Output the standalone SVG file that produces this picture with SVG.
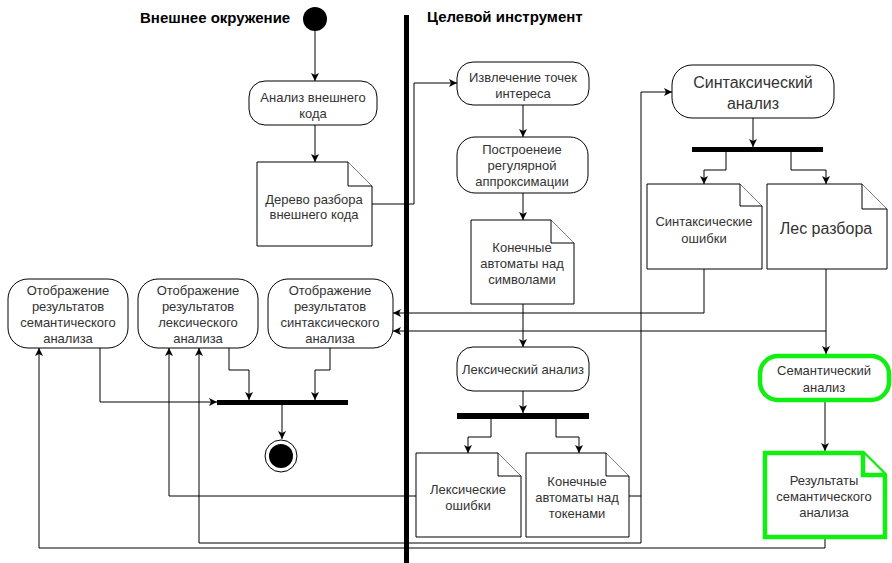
<svg xmlns="http://www.w3.org/2000/svg" width="892" height="563" viewBox="0 0 892 563">
<style>
  .n { fill: #fff; stroke: #000; stroke-width: 1; }
  .g { fill: #fff; stroke: #11ee11; stroke-width: 4.5; }
  .t { font-family: "Liberation Sans", Arial, sans-serif; font-size: 13px; fill: #333; text-anchor: middle; dominant-baseline: central; }
  .tl { font-size: 16px; }
  .h { font-family: "Liberation Sans", Arial, sans-serif; font-size: 15px; font-weight: bold; fill: #000; }
  .c { fill: none; stroke: #000; stroke-width: 1; marker-end: url(#arr); }
  .bar { fill: #000; }
</style>
<defs>
  <marker id="arr" markerWidth="10" markerHeight="10" refX="8" refY="4" orient="auto" markerUnits="userSpaceOnUse">
    <path d="M0,0 L8,4 L0,8 L2,4 Z" fill="#000"/>
  </marker>
</defs>
<rect width="892" height="563" fill="#fff"/>

<g id="titles">
  <text class="h" x="140" y="23">Внешнее окружение</text>
  <text class="h" x="427" y="22">Целевой инструмент</text>
  <rect x="404" y="15" width="5" height="548" fill="#000"/>
</g>

<g id="connectors">
  <path class="c" d="M315,31 V81"/>
  <path class="c" d="M315,125 V162"/>
  <path class="c" d="M372,204 H414 V83 H457"/>
  <path class="c" d="M523,105 V137"/>
  <path class="c" d="M523,193 V220"/>
  <path class="c" d="M523,304 V347"/>
  <path class="c" d="M523,391 V413"/>
  <path class="c" d="M491,419 V437 H468 V453"/>
  <path class="c" d="M556,419 V437 H579 V453"/>
  <path class="c" d="M416,496 H169 V348"/>
  <path class="c" d="M629,496 H641 V92 H672"/>
  <path class="c" d="M641,496 V543 H199 V348"/>
  <path class="c" d="M753,118 V147"/>
  <path class="c" d="M726,152 V170 H704 V184"/>
  <path class="c" d="M791,152 V170 H826 V184"/>
  <path class="c" d="M704,269 V313 H393"/>
  <path class="c" d="M826,269 V354"/>
  <path class="c" d="M826,331 H393"/>
  <path class="c" d="M825,401 V451"/>
  <path class="c" d="M825,539 V548 H39 V348"/>
  <path class="c" d="M100,348 V402 H217"/>
  <path class="c" d="M229,348 V370 H249 V400"/>
  <path class="c" d="M330,348 V370 H315 V400"/>
  <path class="c" d="M282,405 V439"/>
</g>

<g id="start"><circle cx="315" cy="19" r="12" fill="#000"/></g>

<g id="analiz-vneshnego">
  <rect class="n" x="249" y="81" width="128" height="44" rx="16"/>
  <text class="t" x="313" y="97">Анализ внешнего</text>
  <text class="t" x="313" y="113">кода</text>
</g>

<g id="derevo">
  <path class="n" d="M257,162 H348 L372,186 V246 H257 Z"/>
  <path class="n" d="M348,162 V186 H372"/>
  <text class="t" x="314" y="199">Дерево разбора</text>
  <text class="t" x="314" y="214">внешнего кода</text>
</g>

<g id="izvlechenie">
  <rect class="n" x="457" y="62" width="132" height="43" rx="16"/>
  <text class="t" x="523" y="77">Извлечение точек</text>
  <text class="t" x="523" y="93">интереса</text>
</g>

<g id="postroenie">
  <rect class="n" x="457" y="137" width="131" height="56" rx="18"/>
  <text class="t" x="522" y="149">Построенеие</text>
  <text class="t" x="522" y="165">регулярной</text>
  <text class="t" x="522" y="181">аппроксимации</text>
</g>

<g id="ka-simvoly">
  <path class="n" d="M471,220 H551 L574,243 V304 H471 Z"/>
  <path class="n" d="M551,220 V243 H574"/>
  <text class="t" x="522" y="247">Конечные</text>
  <text class="t" x="522" y="263">автоматы над</text>
  <text class="t" x="522" y="279">символами</text>
</g>

<g id="leksicheskiy">
  <rect class="n" x="457" y="347" width="132" height="44" rx="16"/>
  <text class="t" x="523" y="369">Лексический анализ</text>
</g>

<g id="fork-leks"><rect class="bar" x="457" y="413" width="132" height="6"/></g>

<g id="leks-oshibki">
  <path class="n" d="M416,453 H498 L521,476 V537 H416 Z"/>
  <path class="n" d="M498,453 V476 H521"/>
  <text class="t" x="468" y="489">Лексические</text>
  <text class="t" x="468" y="505">ошибки</text>
</g>

<g id="ka-tokeny">
  <path class="n" d="M526,453 H606 L629,476 V537 H526 Z"/>
  <path class="n" d="M606,453 V476 H629"/>
  <text class="t" x="577" y="481">Конечные</text>
  <text class="t" x="577" y="497">автоматы над</text>
  <text class="t" x="577" y="513">токенами</text>
</g>

<g id="sintaksicheskiy">
  <rect class="n" x="672" y="65" width="162" height="53" rx="20"/>
  <text class="t tl" x="753" y="82">Синтаксический</text>
  <text class="t tl" x="753" y="103">анализ</text>
</g>

<g id="fork-sint"><rect class="bar" x="692" y="147" width="131" height="5"/></g>

<g id="sint-oshibki">
  <path class="n" d="M647,184 H740 L762,206 V269 H647 Z"/>
  <path class="n" d="M740,184 V206 H762"/>
  <text class="t" x="704" y="221">Синтаксические</text>
  <text class="t" x="704" y="238">ошибки</text>
</g>

<g id="les">
  <path class="n" d="M767,184 H862 L887,209 V269 H767 Z"/>
  <path class="n" d="M862,184 V209 H887"/>
  <text class="t tl" x="826" y="228">Лес разбора</text>
</g>

<g id="semanticheskiy">
  <rect class="g" x="760" y="356" width="129" height="44" rx="18"/>
  <text class="t" x="824" y="370">Семантический</text>
  <text class="t" x="824" y="387">анализ</text>
</g>

<g id="rezultaty">
  <path class="g" d="M765,453 H863 L885,475 V537 H765 Z"/>
  <path class="g" d="M863,453 V475 H885"/>
  <text class="t" x="824" y="480">Результаты</text>
  <text class="t" x="824" y="496">семантического</text>
  <text class="t" x="824" y="512">анализа</text>
</g>

<g id="otobr-sem">
  <rect class="n" x="8" y="279" width="120" height="69" rx="20"/>
  <text class="t" x="68" y="290">Отображение</text>
  <text class="t" x="68" y="306">результатов</text>
  <text class="t" x="68" y="322">семантического</text>
  <text class="t" x="68" y="338">анализа</text>
</g>

<g id="otobr-leks">
  <rect class="n" x="138" y="279" width="120" height="69" rx="20"/>
  <text class="t" x="198" y="290">Отображение</text>
  <text class="t" x="198" y="306">результатов</text>
  <text class="t" x="198" y="322">лексического</text>
  <text class="t" x="198" y="338">анализа</text>
</g>

<g id="otobr-sint">
  <rect class="n" x="268" y="279" width="125" height="69" rx="20"/>
  <text class="t" x="330" y="290">Отображение</text>
  <text class="t" x="330" y="306">результатов</text>
  <text class="t" x="330" y="322">синтаксического</text>
  <text class="t" x="330" y="338">анализа</text>
</g>

<g id="join"><rect class="bar" x="217" y="400" width="131" height="5"/></g>

<g id="end">
  <circle cx="281" cy="456" r="16" fill="#fff" stroke="#000" stroke-width="1"/>
  <circle cx="281" cy="456" r="12" fill="#000"/>
</g>
</svg>
